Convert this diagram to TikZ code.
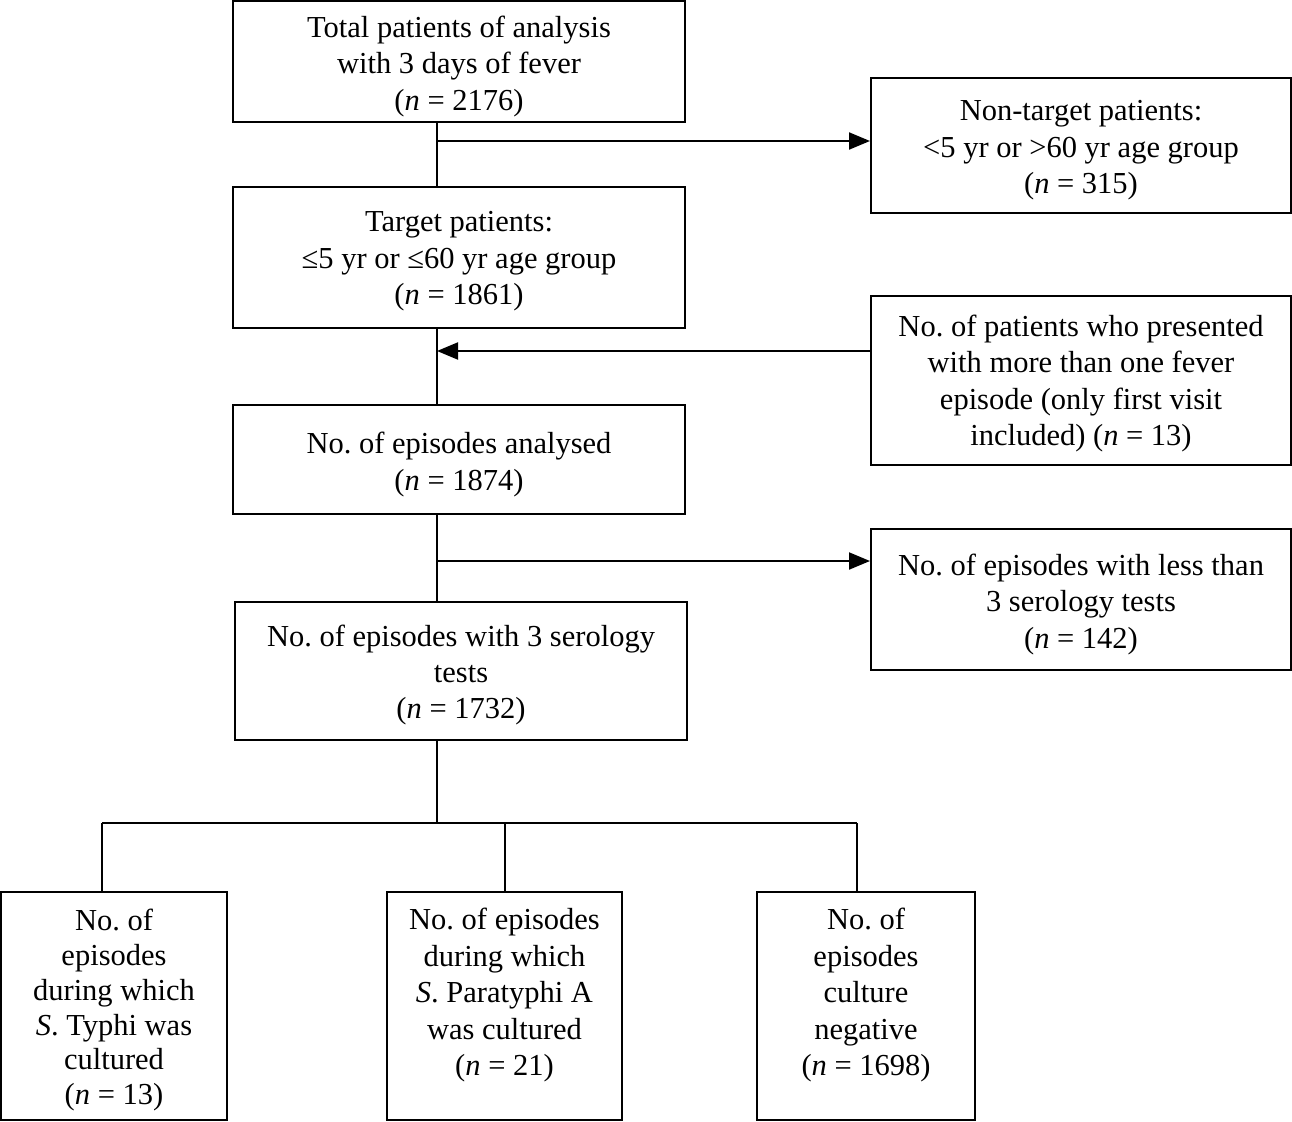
\documentclass[tikz,border=0pt]{standalone}
\usepackage{fontspec}
\setmainfont{Liberation Serif}
\usetikzlibrary{arrows.meta}
\frenchspacing
\begin{document}
\begin{tikzpicture}[x=1pt,y=-1pt,
  box/.style={draw,line width=2pt,rectangle,inner sep=0pt},
  txt/.style={inner sep=0pt,align=center,font=\frenchspacing\fontsize{30.5}{36.5}\selectfont},
  btxt/.style={txt,font=\frenchspacing\fontsize{30.5}{34.8}\selectfont},
  conn/.style={line width=2pt},
  arr/.style={line width=2pt,-{Triangle[length=21pt,width=17pt]}}]
\useasboundingbox (0,0) rectangle (1292,1121);
\node[box,minimum width=452pt,minimum height=121pt] (top) at (459,61.5) {};
\node[txt] (topT) at ([yshift=-5pt]top.center)
  {Total patients of analysis\\with 3 days of fever\\(\textit{n} = 2176)};
\node[box,minimum width=420pt,minimum height=135pt] (nt) at (1081,145.5) {};
\node[txt] (ntT) at ([yshift=-5pt]nt.center)
  {Non-target patients:\\<5 yr or >60 yr age group\\(\textit{n} = 315)};
\node[box,minimum width=452pt,minimum height=141pt] (tgt) at (459,257.5) {};
\node[txt] (tgtT) at ([yshift=-4pt]tgt.center)
  {Target patients:\\≤5 yr or ≤60 yr age group\\(\textit{n} = 1861)};
\node[box,minimum width=420pt,minimum height=169pt] (multi) at (1081,380.5) {};
\node[txt] (multiT) at ([yshift=-3pt]multi.center)
  {No. of patients who presented\\with more than one fever\\episode (only first visit\\included) (\textit{n} = 13)};
\node[box,minimum width=452pt,minimum height=109pt] (ana) at (459,459.5) {};
\node[txt] (anaT) at ([yshift=-5pt]ana.center)
  {No. of episodes analysed\\(\textit{n} = 1874)};
\node[box,minimum width=420pt,minimum height=141pt] (less) at (1081,599.5) {};
\node[txt] (lessT) at ([yshift=-5pt]less.center)
  {No. of episodes with less than\\3 serology tests\\(\textit{n} = 142)};
\node[box,minimum width=452pt,minimum height=138pt] (ser) at (461,671) {};
\node[txt] (serT) at ([yshift=-4pt]ser.center)
  {No. of episodes with 3 serology\\tests\\(\textit{n} = 1732)};
\node[box,minimum width=226pt,minimum height=228pt] (b1) at (114,1006) {};
\node[btxt,anchor=north] (b1T) at ([yshift=-18pt]b1.north)
  {No. of\\episodes\\during which\\\textit{S}. Typhi was\\cultured\\(\textit{n} = 13)};
\node[box,minimum width=235pt,minimum height=228pt] (b2) at (504.5,1006) {};
\node[txt,anchor=north] (b2T) at ([yshift=-17pt]b2.north)
  {No. of episodes\\during which\\\textit{S}. Paratyphi A\\was cultured\\(\textit{n} = 21)};
\node[box,minimum width=218pt,minimum height=228pt] (b3) at (866,1006) {};
\node[txt,anchor=north] (b3T) at ([yshift=-17pt]b3.north)
  {No. of\\episodes\\culture\\negative\\(\textit{n} = 1698)};
\coordinate (sp) at (437,0);
\coordinate (j1) at (437,141);
\coordinate (j2) at (437,351);
\coordinate (j3) at (437,561);
\coordinate (j4) at (437,823);
\coordinate (d1) at (102,823);
\coordinate (d2) at (505,823);
\coordinate (d3) at (857,823);
\draw[conn] (top.south -| sp) -- (tgt.north -| sp);
\draw[arr] (j1) -- (j1 -| nt.west);
\draw[conn] (tgt.south -| sp) -- (ana.north -| sp);
\draw[arr] (j2 -| multi.west) -- (j2);
\draw[conn] (ana.south -| sp) -- (ser.north -| sp);
\draw[arr] (j3) -- (j3 -| less.west);
\draw[conn] (ser.south -| sp) -- (j4);
\draw[conn] (d1) -- (d3);
\draw[conn] (d1) -- (d1 |- b1.north);
\draw[conn] (d2) -- (d2 |- b2.north);
\draw[conn] (d3) -- (d3 |- b3.north);
\end{tikzpicture}
\end{document}
